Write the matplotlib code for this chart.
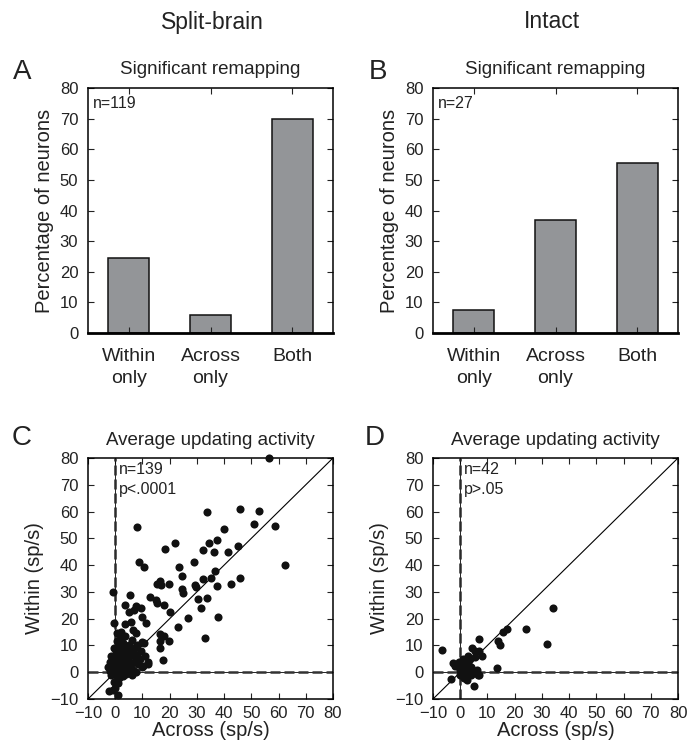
import numpy as np
import matplotlib
matplotlib.use("Agg")
import matplotlib.pyplot as plt

plt.rcParams['font.family'] = ['Liberation Sans', 'DejaVu Sans']

# bar data (percentage of neurons)
categories = ["Within\nonly", "Across\nonly", "Both"]
split_pct = [24.5, 6.0, 70.0]
intact_pct = [7.4, 37.0, 55.6]

# average updating activity, split-brain (n=139): across, within (sp/s)
split_across = [56.5, 33.6, 45.7, 52.7, 8.0, 40.1, 50.8, 58.8, 21.9, 18.3, 34.3, 37.5, 32.4, 36.2,
                45.0, 41.6, 8.6, 10.6, 23.6, 28.8, 62.2, 24.6, 36.6, 16.4, 15.4, 19.8, 16.9, 24.5,
                25.0, 29.4, 29.5, 32.1, 35.1, 37.4, 42.7, 45.7, -1.0, 5.5, 12.6, 14.9, 15.4, 17.8,
                3.6, 7.6, 5.1, 6.8, 9.6, 20.2, 30.5, 33.7, 31.6, 26.6, 37.7, 9.7, 11.2, -0.4,
                3.7, 5.9, 6.6, 7.6, 23.0, 16.5, 17.8, 19.9, 16.5, 16.5, 33.0, 17.7, 10.3, 12.2,
                9.8, -2.2,
                0.5, 1.5, 2.5, 3.0, 1.0, 2.0, 4.0, 5.0, 6.0, 0.3, 1.2, 2.8, 3.5, 4.5, 5.5, 7.0,
                8.0, 9.0, 0.1, 1.0, 2.0, 3.0, 4.0, 5.0, 6.0, 7.5, 8.5, 10.0, -0.5, 0.5, 1.5, 2.5,
                3.5, 4.5, 5.5, 6.5, -1.0, 0.0, 1.0, 2.0, 3.0, 4.0, 5.0, 6.0, 7.5, -2.0, -1.5, 0.5,
                1.5, 3.0, -0.5, 1.0, 0.0, -1.0, 1.0, -2.5, -2.0, -1.5, -0.5, 0.5, 2.0, 3.5, 6.0,
                8.0, 9.5, 11.0, 12.0, 10.5, 7.0]
split_within = [80.0, 59.7, 61.1, 60.3, 54.2, 53.5, 55.3, 54.7, 48.3, 46.0, 48.3, 49.3, 45.5, 44.8,
                47.3, 44.9, 41.0, 39.3, 39.3, 41.0, 40.0, 35.8, 37.9, 34.2, 33.0, 33.0, 32.5, 31.1,
                29.4, 32.5, 31.8, 34.8, 35.1, 32.3, 33.1, 35.1, 30.1, 28.7, 28.1, 27.1, 26.0, 25.1,
                25.1, 24.6, 22.4, 23.1, 23.9, 22.4, 27.5, 27.7, 23.8, 20.4, 20.5, 20.6, 18.4, 18.5,
                18.0, 18.8, 15.9, 14.7, 16.9, 14.2, 13.7, 11.8, 11.6, 9.2, 12.7, 4.5, 2.5, 3.1,
                11.2, -7.1,
                14.7, 12.2, 13.0, 11.0, 10.0, 9.0, 9.5, 10.0, 8.5, 8.0, 7.0, 7.5, 6.5, 7.0, 6.0, 7.0,
                6.0, 5.0, 5.0, 4.5, 5.5, 4.0, 5.0, 4.0, 3.5, 4.5, 3.0, 2.0, 3.0, 2.5, 2.0, 3.0,
                2.0, 1.5, 2.5, 1.0, 1.0, 0.5, 0.0, 1.0, 0.5, -0.5, 0.0, -1.0, 0.0, 0.5, -1.0, -1.5,
                -2.0, -1.5, -3.5, -4.0, -6.0, -6.5, -8.5, 2.0, 4.0, 6.0, 9.0, 11.5, 15.0, 13.5, 12.0,
                10.0, 8.0, 6.0, 4.0, 11.0, 9.0]

# intact (n=42)
intact_across = [34.0, 24.2, 31.7, 17.0, 15.6, 13.8, 14.5, 6.9, 13.4, 4.5, 5.5, 7.0, 8.1, 5.0,
                 -6.8, -3.4,
                 -1.8, -0.6, -2.5, -1.0, 0.5, 1.5, 2.0, 3.0, 3.5, 4.0, 2.5, 1.0, 0.0, 1.5, 2.5,
                 4.0, 5.0, 6.0, 6.5, 0.0, 3.0, 5.5, 7.0, -0.5, 1.0, 2.0]
intact_within = [23.9, 16.0, 10.5, 16.1, 15.1, 11.8, 10.2, 12.3, 1.6, 9.2, 8.1, 7.8, 6.2, -5.2,
                 8.4, -2.7,
                 2.2, 3.7, 3.5, 3.0, 3.0, 2.0, 4.0, 3.5, 5.0, 2.0, 0.5, 0.0, -1.0, -2.0, -3.0,
                 -1.0, 0.5, 1.0, -1.0, 1.0, 6.0, 5.5, -1.0, 2.0, 5.0, -0.5]

bar_gray = "#939598"
fig = plt.figure(figsize=(6.92, 7.51), dpi=100)

W, H = 692, 751
def px_axes(l, t, r, b):
    return fig.add_axes([l / W, 1 - b / H, (r - l) / W, (b - t) / H])

def style(ax):
    ax.tick_params(direction="in", top=True, right=True, length=4, width=0.8,
                   labelsize=12, pad=7, colors="#222222", labelcolor="#222222")
    for s in ax.spines.values():
        s.set_linewidth(1.1)

def bar_panel(ax, vals, n):
    x = np.arange(1, len(vals) + 1)
    ax.bar(x, vals, width=0.5, color=bar_gray, edgecolor="#111111", linewidth=1.1)
    ax.set_xlim(0.5, 3.5)
    ax.set_ylim(0, 80)
    ax.set_yticks(range(0, 81, 10))
    ax.set_xticks(x)
    ax.set_xticklabels(categories, fontsize=14, linespacing=1.4)
    ax.tick_params(axis="x", length=4, pad=11)
    ax.spines["bottom"].set_linewidth(2.0)
    ax.set_ylabel("Percentage of neurons", fontsize=14.5, labelpad=4, color="#222222")
    ax.set_title("Significant remapping", fontsize=13.5, pad=10, color="#222222")
    ax.text(0.56, 77.5, "n=%d" % n, fontsize=11.5, va="top", color="#222222")

def scatter_panel(ax, xs, ys, txt):
    ax.plot([-10, 80], [-10, 80], color="black", lw=0.8)
    ax.axvline(0, color="black", lw=0.6)
    ax.axhline(0, color="black", lw=0.6)
    ax.axvline(0, color="#2a2a2a", lw=1.8, ls=(0, (4, 1.6)))
    ax.axhline(0, color="#333333", lw=1.8, ls=(0, (4, 1.6)))
    ax.scatter(xs, ys, s=34, color="#111111", zorder=3, clip_on=False, linewidths=0)
    ax.set_xlim(-10, 80)
    ax.set_ylim(-10, 80)
    ax.set_xticks(range(-10, 81, 10))
    ax.set_yticks(range(-10, 81, 10))
    ax.tick_params(axis="x", pad=5)
    ax.set_xlabel("Across (sp/s)", fontsize=14.5, labelpad=0, color="#222222")
    ax.set_ylabel("Within (sp/s)", fontsize=14.5, labelpad=4, color="#222222")
    ax.set_title("Average updating activity", fontsize=13.5, pad=9, color="#222222")
    ax.text(1.3, 78.5, txt, fontsize=11.5, va="top", linespacing=1.45, color="#222222")

axA = px_axes(88, 88, 333, 333)
axB = px_axes(433, 88, 678, 333)
axC = px_axes(88, 458, 333, 699)
axD = px_axes(433, 458, 678, 699)
for ax in (axA, axB, axC, axD):
    style(ax)

bar_panel(axA, split_pct, 119)
bar_panel(axB, intact_pct, 27)
scatter_panel(axC, split_across, split_within, "n=139\np<.0001")
scatter_panel(axD, intact_across, intact_within, "n=42\np>.05")

fig.text(212 / W, 1 - 22 / H, "Split-brain", fontsize=16.5, ha="center", va="center", color="#222222")
fig.text(552 / W, 1 - 22 / H, "Intact", fontsize=16.5, ha="center", va="center", color="#222222")
for lab, x, y in [("A", 22, 72), ("B", 378, 72), ("C", 22, 438), ("D", 375, 438)]:
    fig.text(x / W, 1 - y / H, lab, fontsize=20, ha="center", va="center", color="#222222")

fig.savefig("out.png", dpi=100)
